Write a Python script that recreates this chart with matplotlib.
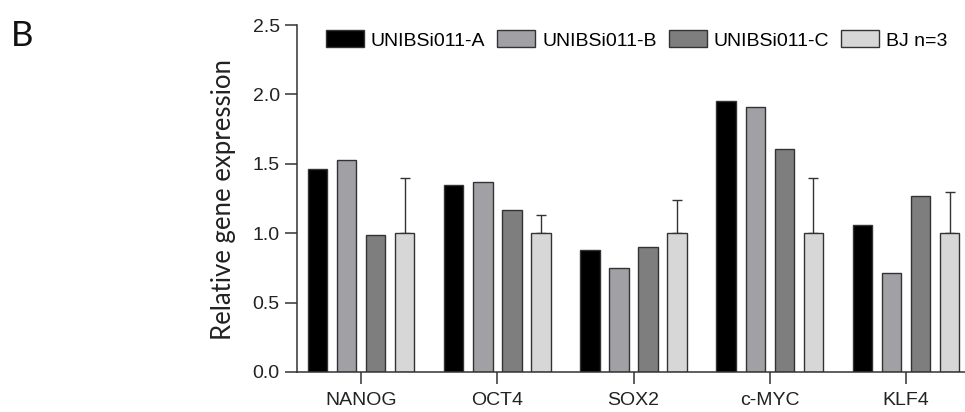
import numpy as np
import matplotlib
matplotlib.use("Agg")
import matplotlib.pyplot as plt

# DATA
genes = ["NANOG", "OCT4", "SOX2", "c-MYC", "KLF4"]
series_names = ["UNIBSi011-A", "UNIBSi011-B", "UNIBSi011-C", "BJ n=3"]
vals_a = [1.46, 1.35, 0.88, 1.95, 1.06]
vals_b = [1.53, 1.37, 0.75, 1.91, 0.71]
vals_c = [0.99, 1.17, 0.90, 1.61, 1.27]
vals_bj = [1.00, 1.00, 1.00, 1.00, 1.00]
err_bj = [0.40, 0.13, 0.24, 0.40, 0.30]
y_ticks = [0.0, 0.5, 1.0, 1.5, 2.0, 2.5]

# STYLE
colors = ["#000000", "#a0a0a5", "#7e7e7e", "#d7d7d7"]
edge = "#333333"
tick_font = "Liberation Sans"
label_font = "Lato"
fs = 14

W, H = 965, 412
fig = plt.figure(figsize=(W / 100, H / 100), dpi=100)

# axes box in pixels: x 297..965, y 25..372
ax = fig.add_axes([297 / W, (H - 372) / H, (W - 297) / W, (372 - 25) / H])

x = np.arange(len(genes))
bw = 0.143
pitch = 0.213
offsets = (np.arange(4) - 1.5) * pitch
all_vals = [vals_a, vals_b, vals_c, vals_bj]

handles = []
for i, (vals, col, name) in enumerate(zip(all_vals, colors, series_names)):
    if i == 3:
        # one-sided (upper) error bars for BJ
        yerr = [np.zeros(len(err_bj)), err_bj]
        b = ax.bar(x + offsets[i], vals, bw, color=col, edgecolor=edge, lw=1.0,
                   yerr=yerr, error_kw=dict(ecolor=edge, elinewidth=1.0, capsize=3.5,
                                            capthick=1.0, zorder=1), label=name, zorder=2)
    else:
        b = ax.bar(x + offsets[i], vals, bw, color=col, edgecolor=edge, lw=1.0,
                   label=name, zorder=2)
    handles.append(b)

ax.set_xlim(-0.47, 4.433)
ax.set_ylim(0, 2.5)
ax.set_yticks(y_ticks)
ax.set_yticklabels([f"{v:.1f}" for v in y_ticks], family=tick_font, fontsize=fs, color="#222222")
ax.set_xticks(x)
ax.set_xticklabels(genes, family=tick_font, fontsize=fs, color="#222222")

for side in ("top", "right"):
    ax.spines[side].set_visible(False)
for side in ("left", "bottom"):
    ax.spines[side].set_color(edge)
    ax.spines[side].set_linewidth(1.1)
ax.tick_params(axis="both", direction="out", length=8.5, width=1.1, color=edge)
ax.tick_params(axis="y", pad=4)
ax.tick_params(axis="x", pad=6)

leg = fig.legend(handles=handles, labels=series_names, ncol=4, frameon=False,
                 loc="center left", bbox_to_anchor=(326 / W, 1 - 40 / H),
                 prop=dict(family=tick_font, size=fs),
                 handlelength=1.95, handleheight=0.95, handletextpad=0.36,
                 columnspacing=0.62, borderaxespad=0, borderpad=0)

fig.text(224 / W, 1 - 200 / H, "Relative gene expression", rotation=90,
         ha="center", va="center", family=label_font, fontsize=18.5, color="#222222")
fig.text(11 / W, 1 - 20 / H, "B", ha="left", va="top", family=label_font,
         fontsize=25, color="#111111")

fig.savefig("out.png", dpi=100)
